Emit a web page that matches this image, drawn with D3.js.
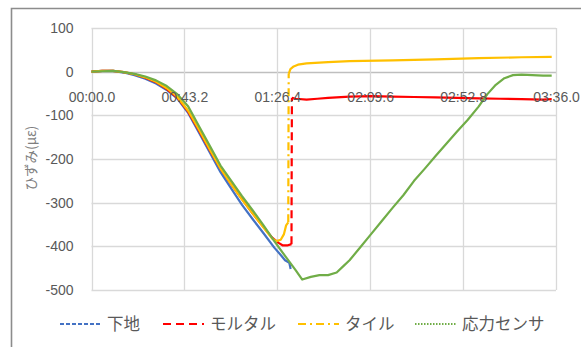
<!DOCTYPE html>
<html>
<head>
<meta charset="utf-8">
<script src="https://cdn.jsdelivr.net/npm/d3@7"></script>
<style>
  body { margin: 0; background: #fff; }
  svg text { font-family: "Liberation Sans", "Noto Sans CJK JP", sans-serif; }
  .jp { font-family: "Noto Sans CJK JP", sans-serif; }
</style>
</head>
<body>
<div id="chart"></div>
<script>
// time in seconds, strain in με
const seriesNames = ['下地', 'モルタル', 'タイル', '応力センサ']
const seriesColors = ['#4472C4', '#FF0000', '#FFC000', '#70AD47']
const seriesDashes = ['4,2', '8,5', '8,4,2,4', '1.5,1.5']

const baseValues = [
  [0, 0], [5, 2], [10, 2], [15, -2], [20, -8], [25, -16], [30, -27], [35, -42],
  [40, -62], [45, -95], [50, -140], [55, -185], [60, -230], [65, -268],
  [70, -305], [75, -338], [80, -370], [85, -403], [88, -420], [90, -432],
  [92, -438], [92.6, -452]
]
const mortarValues = [
  [0, 0], [5, 2], [10, 2], [15, -1], [20, -6], [25, -14], [30, -24], [35, -40],
  [40, -60], [45, -92], [50, -135], [55, -180], [60, -222], [65, -258],
  [70, -292], [75, -325], [80, -356], [84, -380], [87, -392], [89, -398],
  [91, -398], [93, -395], [93.1, -200], [93.2, -60], [95, -62], [100, -64],
  [105, -62], [110, -60], [120, -57], [130, -56], [140, -57], [150, -58],
  [160, -59], [170, -60], [180, -61], [190, -62], [200, -63], [210, -64], [214, -63]
]
const tileValues = [
  [0, 0], [5, 2], [10, 2], [15, -1], [20, -6], [25, -13], [30, -23], [35, -38],
  [40, -58], [45, -90], [50, -133], [55, -178], [60, -222], [65, -258],
  [70, -293], [75, -325], [80, -357], [84, -382], [86, -388], [88, -385],
  [89.5, -372], [90.5, -352], [91.5, -345], [91.6, -150], [91.7, -5], [92.5, 6],
  [94, 12], [96, 16], [100, 19], [110, 22], [120, 24], [140, 26], [160, 28],
  [180, 31], [200, 33], [214, 34]
]
const sensorValues = [
  [0, 0], [5, 1], [10, 2], [15, -1], [20, -5], [25, -11], [30, -20], [35, -33],
  [40, -52], [45, -80], [50, -125], [55, -170], [60, -215], [65, -250],
  [70, -285], [75, -318], [80, -352], [85, -388], [90, -422], [95, -455],
  [98, -476], [102, -470], [106, -466], [110, -466], [114, -460], [117, -446],
  [120, -432], [125, -402], [130, -372], [135, -342], [140, -312], [145, -283],
  [150, -250], [155, -222], [160, -193], [165, -165], [170, -137], [175, -110],
  [180, -80], [184, -52], [188, -30], [192, -15], [196, -8], [200, -7],
  [205, -8], [210, -9], [214, -9]
]
const seriesValues = [baseValues, mortarValues, tileValues, sensorValues]

const xTickValues = [0, 43.2, 86.4, 129.6, 172.8, 216]
const xTickLabels = ['00:00.0', '00:43.2', '01:26.4', '02:09.6', '02:52.8', '03:36.0']
const yTickValues = [100, 0, -100, -200, -300, -400, -500]
const yTitle = 'ひずみ(με)'

const width = 581
const height = 347

const svg = d3.select('#chart')
  .append('svg')
  .attr('width', width)
  .attr('height', height)

// outer chart border (left + top visible)
svg.append('path')
  .attr('d', `M11.5,${height} V8.5 H${width}`)
  .attr('fill', 'none')
  .attr('stroke', '#8c8c8c')
  .attr('stroke-width', 1.6)

const x = d3.scaleLinear().domain([0, 216]).range([91.5, 556])
const y = d3.scaleLinear().domain([-500, 100]).range([290, 28])

// gridlines
svg.append('g')
  .attr('class', 'grid-y')
  .selectAll('line')
  .data(yTickValues)
  .join('line')
  .attr('x1', x(0)).attr('x2', x(216))
  .attr('y1', d => Math.round(y(d)) + 0.5).attr('y2', d => Math.round(y(d)) + 0.5)
  .attr('stroke', d => d === 0 ? '#bfbfbf' : '#d9d9d9')
  .attr('stroke-width', 1.3)

svg.append('g')
  .attr('class', 'grid-x')
  .selectAll('line')
  .data(xTickValues)
  .join('line')
  .attr('x1', d => Math.round(x(d)) + 0.5).attr('x2', d => Math.round(x(d)) + 0.5)
  .attr('y1', y(100)).attr('y2', y(-500))
  .attr('stroke', '#d9d9d9')
  .attr('stroke-width', 1.3)

// y-axis labels
const yAxis = d3.axisLeft(y)
  .tickValues(yTickValues)
  .tickSize(0)
  .tickPadding(18)
  .tickFormat(d3.format('d'))

svg.append('g')
  .attr('class', 'y-axis')
  .attr('transform', `translate(${x(0)}, 0)`)
  .call(yAxis)
  .call(g => g.select('.domain').remove())
  .selectAll('text')
  .attr('fill', '#595959')
  .attr('font-size', 14)
  .text(d => d3.format('d')(d).replace('−', '-'))

// series lines: steep jumps keep the series dash style, the rest reads solid
const lineGen = d3.line()
  .x(d => x(d[0]))
  .y(d => y(d[1]))

const isJump = (a, b) => Math.abs(b[1] - a[1]) / Math.max(b[0] - a[0], 0.01) > 100

const splitSegments = values => {
  const segs = []
  for (let i = 1; i < values.length; i++) {
    const jump = isJump(values[i - 1], values[i])
    const last = segs[segs.length - 1]
    if (last && last.jump === jump) last.points.push(values[i])
    else segs.push({ jump, points: [values[i - 1], values[i]] })
  }
  return segs
}

const lines = svg.append('g').attr('class', 'lines')
seriesValues.forEach((values, i) => {
  lines.append('g')
    .selectAll('path')
    .data(splitSegments(values))
    .join('path')
    .attr('fill', 'none')
    .attr('stroke', seriesColors[i])
    .attr('stroke-width', 2.2)
    .attr('stroke-linejoin', 'round')
    .attr('stroke-dasharray', d => d.jump ? seriesDashes[i] : null)
    .attr('d', d => lineGen(d.points))
})

// x-axis labels sit under the zero line
const xAxis = d3.axisBottom(x)
  .tickValues(xTickValues)
  .tickSize(0)
  .tickPadding(20)
  .tickFormat((d, i) => xTickLabels[i])

svg.append('g')
  .attr('class', 'x-axis')
  .attr('transform', `translate(0, ${y(0)})`)
  .call(xAxis)
  .call(g => g.select('.domain').remove())
  .selectAll('text')
  .attr('fill', '#595959')
  .attr('font-size', 14)

// y-axis title
svg.append('text')
  .attr('class', 'jp')
  .attr('transform', `translate(36, 158) rotate(-90)`)
  .attr('text-anchor', 'middle')
  .attr('fill', '#7f7f7f')
  .attr('font-size', 13.5)
  .text(yTitle)

// legend
const legendX = [60, 163, 298, 415]
const legend = svg.append('g')
  .attr('class', 'legend')
  .selectAll('g')
  .data(seriesNames)
  .join('g')
  .attr('transform', (d, i) => `translate(${legendX[i]}, 324)`)

legend.append('line')
  .attr('x1', 0).attr('x2', 41)
  .attr('stroke', (d, i) => seriesColors[i])
  .attr('stroke-width', 2.2)
  .attr('stroke-dasharray', (d, i) => seriesDashes[i])

legend.append('text')
  .attr('class', 'jp')
  .attr('x', (d, i) => i === 2 ? 47 : 47)
  .attr('dy', '0.35em')
  .attr('fill', '#595959')
  .attr('font-size', 16.5)
  .text(d => d)
</script>
</body>
</html>
